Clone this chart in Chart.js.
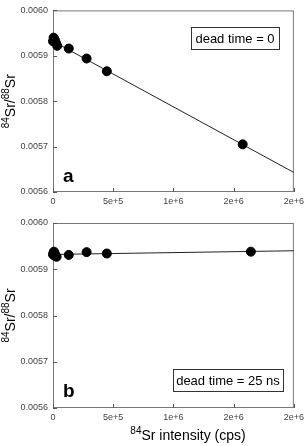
<!DOCTYPE html>
<html>
<head>
<meta charset="utf-8">
<script src="https://cdn.jsdelivr.net/npm/chart.js@4"></script>
<style>
  body { margin: 0; background: #fff; }
  #wrap { position: relative; width: 308px; height: 446px; }
  canvas { position: absolute; left: 0; }
  #chartA { top: 0; }
  #chartB { top: 212px; }
</style>
</head>
<body>
<div id="wrap">
  <canvas id="chartA" width="308" height="212"></canvas>
  <canvas id="chartB" width="308" height="234"></canvas>
</div>
<script>
// values
var fitX = [0, 2000000];
var intensityA = [0, 5000, 10000, 15000, 20000, 25000, 35000, 131000, 279000, 447000, 1575000];
var ratioA = [0.005932, 0.005940, 0.005937, 0.005935, 0.005930, 0.005928, 0.005922, 0.005916, 0.005894, 0.005866, 0.005705];
var fitA = [0.005932, 0.005643];
var intensityB = [0, 5000, 8000, 10000, 15000, 20000, 30000, 131000, 279000, 447000, 1643000];
var ratioB = [0.005932, 0.005936, 0.005938, 0.005930, 0.005934, 0.005929, 0.005927, 0.005931, 0.005937, 0.005934, 0.005938];
var fitB = [0.005932, 0.005940];
var panelLabels = ['a', 'b'];
var deadTimes = ['dead time = 0', 'dead time = 25 ns'];

var FONT = 'Arial, "Liberation Sans", sans-serif';

function pts(xs, ys) {
  var out = [];
  for (var i = 0; i < xs.length; i++) out.push({x: xs[i], y: ys[i]});
  return out;
}

// draws frame, inward ticks, panel letter, dead time box, axis titles
function decor(letter, boxText, boxPos, letterY, showXTitle) {
  return {
    id: 'decor',
    beforeDatasetsDraw: function(chart) {
      var c = chart.ctx, a = chart.chartArea;
      var xs = chart.scales.x, ys = chart.scales.y;
      c.save();
      c.strokeStyle = '#777';
      c.lineWidth = 1;
      c.strokeRect(a.left + 0.5, a.top + 0.5, a.right - a.left - 1, a.bottom - a.top - 1);
      c.strokeStyle = '#555';
      c.beginPath();
      xs.ticks.forEach(function(t) {
        var px = Math.round(xs.getPixelForValue(t.value)) + 0.5;
        c.moveTo(px, a.bottom); c.lineTo(px, a.bottom - 4);
      });
      ys.ticks.forEach(function(t) {
        var py = Math.round(ys.getPixelForValue(t.value)) + 0.5;
        c.moveTo(a.left, py); c.lineTo(a.left + 4, py);
      });
      c.stroke();
      c.restore();
    },
    afterDraw: function(chart) {
      var c = chart.ctx, a = chart.chartArea;
      c.save();
      // panel letter
      c.fillStyle = '#000';
      c.font = 'bold 19px ' + FONT;
      c.textBaseline = 'alphabetic';
      c.textAlign = 'left';
      c.fillText(letter, a.left + 10, letterY);

      // dead time box
      c.font = '13px ' + FONT;
      c.fillStyle = '#fff';
      c.fillRect(boxPos[0], boxPos[1], boxPos[2], boxPos[3]);
      c.strokeStyle = '#333';
      c.lineWidth = 1;
      c.strokeRect(boxPos[0] + 0.5, boxPos[1] + 0.5, boxPos[2], boxPos[3]);
      c.fillStyle = '#000';
      c.textAlign = 'center';
      c.textBaseline = 'middle';
      c.fillText(boxText, boxPos[0] + boxPos[2] / 2, boxPos[1] + boxPos[3] / 2 + 1);

      // y title with superscripts
      var parts = [['84', true], ['Sr/', false], ['88', true], ['Sr', false]];
      function w(p) { c.font = (p[1] ? '10px ' : '14px ') + FONT; return c.measureText(p[0]).width; }
      var total = 0;
      parts.forEach(function(p) { total += w(p); });
      c.translate(15, (a.top + a.bottom) / 2);
      c.rotate(-Math.PI / 2);
      c.textAlign = 'left';
      c.textBaseline = 'alphabetic';
      var x0 = -total / 2;
      parts.forEach(function(p) {
        var ww = w(p);
        c.fillText(p[0], x0, p[1] ? -6 : 0);
        x0 += ww;
      });
      c.setTransform(1, 0, 0, 1, 0, 0);

      if (showXTitle) {
        var xp = [['84', true], ['Sr intensity (cps)', false]];
        var tw = 0;
        xp.forEach(function(p) { tw += w(p); });
        var sx = 188 - tw / 2, by = chart.height - 6;
        xp.forEach(function(p) {
          var ww = w(p);
          c.fillText(p[0], sx, p[1] ? by - 6 : by);
          sx += ww;
        });
      }
      c.restore();
    }
  };
}

function makeChart(id, xs, ys, fit, letter, boxText, boxPos, letterY, showXTitle, padTop, xHeight) {
  return new Chart(document.getElementById(id), {
    type: 'scatter',
    data: {
      datasets: [{
        data: pts(xs, ys),
        backgroundColor: '#000',
        borderColor: '#000',
        pointRadius: 4.5,
        pointHoverRadius: 4.5,
        clip: false
      }, {
        type: 'line',
        data: pts(fitX, fit),
        borderColor: '#222',
        borderWidth: 1,
        pointRadius: 0,
        fill: false
      }]
    },
    options: {
      responsive: false,
      animation: false,
      events: [],
      layout: { padding: { top: padTop, right: 11, left: 0, bottom: 0 } },
      plugins: { legend: { display: false }, tooltip: { enabled: false } },
      scales: {
        x: {
          type: 'linear',
          min: 0, max: 2000000,
          grid: { display: false, drawTicks: false },
          border: { display: false },
          afterFit: function(s) { s.height = xHeight; },
          ticks: {
            stepSize: 500000,
            padding: 4,
            color: '#444',
            font: { family: FONT, size: 9 },
            maxRotation: 0,
            callback: function(v) { return v === 0 ? '0' : Number(v).toExponential(0); }
          }
        },
        y: {
          min: 0.0056, max: 0.0060,
          grid: { display: false, drawTicks: false },
          border: { display: false },
          afterFit: function(s) { s.width = 53; },
          ticks: {
            stepSize: 0.0001,
            padding: 5,
            color: '#444',
            font: { family: FONT, size: 9 },
            callback: function(v) { return Number(v).toFixed(4); }
          }
        }
      }
    },
    plugins: [decor(letter, boxText, boxPos, letterY, showXTitle)]
  });
}

makeChart('chartA', intensityA, ratioA, fitA, panelLabels[0], deadTimes[0], [191, 27, 88, 22], 182, false, 9, 20);
makeChart('chartB', intensityB, ratioB, fitB, panelLabels[1], deadTimes[1], [173, 157, 110, 22], 185, true, 11, 38);
</script>
</body>
</html>
